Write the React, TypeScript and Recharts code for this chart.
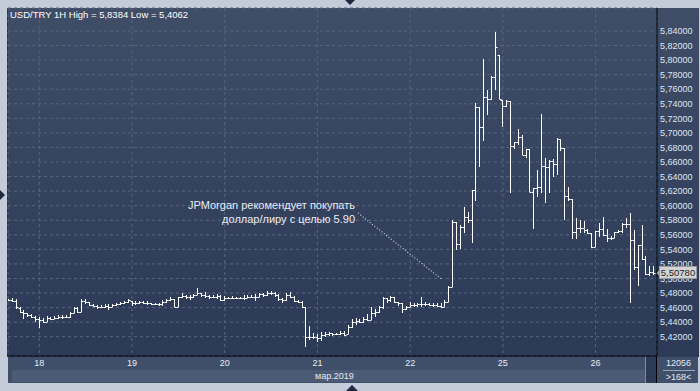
import React from 'react';
import { Bar, CartesianGrid, ComposedChart, ReferenceLine, XAxis, YAxis } from 'recharts';

// hourly bars, USD/TRY, 17.03 16:00 .. 26.03 15:00
const opens = [
  5.4705, 5.4705, 5.4696, 5.459, 5.4545, 5.4522, 5.4499, 5.4476, 5.444, 5.443,
  5.4407, 5.4453, 5.4444, 5.4453, 5.4467, 5.4467, 5.4467, 5.4522, 5.459, 5.4536,
  5.4687, 5.4682, 5.4636, 5.4623, 5.4604, 5.4613, 5.4623, 5.4613, 5.4636, 5.4646,
  5.4659, 5.4682, 5.4696, 5.4659, 5.4668, 5.4673, 5.4668, 5.4659, 5.465, 5.4646,
  5.465, 5.4682, 5.4705, 5.4714, 5.4613, 5.4742, 5.476, 5.4751, 5.4742, 5.4774,
  5.4797, 5.4774, 5.476, 5.4742, 5.4751, 5.476, 5.471, 5.4728, 5.4737, 5.4737,
  5.4733, 5.4733, 5.4728, 5.4751, 5.4751, 5.4751, 5.4787, 5.4774, 5.4797, 5.4806,
  5.4774, 5.4714, 5.4705, 5.4774, 5.4751, 5.4691, 5.4682, 5.4604, 5.4201, 5.4201,
  5.4201, 5.4178, 5.4224, 5.4238, 5.4247, 5.4238, 5.4238, 5.4256, 5.4238, 5.4339,
  5.4407, 5.4421, 5.4407, 5.444, 5.443, 5.4522, 5.4545, 5.4604, 5.4728, 5.4705,
  5.4742, 5.4682, 5.4668, 5.4577, 5.4604, 5.4636, 5.4636, 5.465, 5.465, 5.465,
  5.4636, 5.4636, 5.4623, 5.4613, 5.4682, 5.4888, 5.578, 5.547, 5.5712, 5.585,
  5.5804, 5.6216, 5.7351, 5.7077, 5.7498, 5.7461, 5.7763, 5.807, 5.7452, 5.7374,
  5.7443, 5.6825, 5.688, 5.6939, 5.6697, 5.6775, 5.6193, 5.6239, 5.6252, 5.655,
  5.6536, 5.6619, 5.6568, 5.6912, 5.6788, 5.6133, 5.6088, 5.5639, 5.5689, 5.5689,
  5.5666, 5.5621, 5.5437, 5.5657, 5.5676, 5.5598, 5.5552, 5.5552, 5.5639, 5.5648,
  5.5749, 5.5749, 5.5529, 5.5154, 5.5456, 5.5263, 5.5062, 5.5094,
];

const highs = [
  5.4714, 5.4728, 5.4714, 5.4604, 5.4568, 5.4522, 5.4508, 5.4485, 5.4467, 5.4462,
  5.4485, 5.4476, 5.4485, 5.4494, 5.4499, 5.4499, 5.4545, 5.4604, 5.4613, 5.4714,
  5.4714, 5.4682, 5.465, 5.4636, 5.4636, 5.465, 5.465, 5.465, 5.4659, 5.4682,
  5.4696, 5.4714, 5.4696, 5.4687, 5.4691, 5.4696, 5.4687, 5.4668, 5.4668, 5.4659,
  5.4705, 5.4723, 5.4742, 5.4714, 5.4751, 5.4806, 5.4778, 5.4778, 5.4787, 5.4865,
  5.4806, 5.4815, 5.4774, 5.4774, 5.4787, 5.4774, 5.476, 5.4751, 5.476, 5.4751,
  5.4751, 5.4774, 5.4774, 5.4774, 5.4787, 5.4806, 5.4797, 5.4829, 5.4829, 5.482,
  5.4783, 5.4728, 5.4797, 5.482, 5.476, 5.4705, 5.4696, 5.4613, 5.4348, 5.4256,
  5.4238, 5.427, 5.427, 5.427, 5.4256, 5.4256, 5.4279, 5.4284, 5.4362, 5.444,
  5.4453, 5.444, 5.4467, 5.4513, 5.4613, 5.4577, 5.4623, 5.4751, 5.4728, 5.476,
  5.4751, 5.4682, 5.4668, 5.4623, 5.4682, 5.4668, 5.4668, 5.4742, 5.4682, 5.4659,
  5.4659, 5.4668, 5.4668, 5.4705, 5.4897, 5.5804, 5.5781, 5.5735, 5.5987, 5.5918,
  5.6216, 5.7406, 5.7351, 5.801, 5.759, 5.778, 5.8384, 5.807, 5.7452, 5.7452,
  5.7443, 5.688, 5.7049, 5.6971, 5.6775, 5.6775, 5.6239, 5.649, 5.7255, 5.6651,
  5.6628, 5.6637, 5.6925, 5.6918, 5.6788, 5.6262, 5.6088, 5.583, 5.5804, 5.579,
  5.5676, 5.563, 5.5657, 5.5758, 5.584, 5.5676, 5.5584, 5.5639, 5.5666, 5.5758,
  5.583, 5.5904, 5.5666, 5.546, 5.5735, 5.5309, 5.5172, 5.5172,
];

const lows = [
  5.4696, 5.4682, 5.4577, 5.4531, 5.444, 5.4476, 5.4462, 5.4407, 5.4316, 5.4385,
  5.4407, 5.443, 5.444, 5.4449, 5.4444, 5.4453, 5.4453, 5.4522, 5.4522, 5.4536,
  5.465, 5.4623, 5.4604, 5.4577, 5.459, 5.459, 5.4568, 5.4613, 5.4623, 5.4636,
  5.465, 5.4659, 5.4623, 5.4641, 5.465, 5.4646, 5.4641, 5.4632, 5.4632, 5.4623,
  5.4623, 5.4668, 5.4696, 5.4604, 5.4613, 5.4728, 5.4714, 5.4705, 5.4728, 5.4774,
  5.4751, 5.4728, 5.4714, 5.4728, 5.4723, 5.4696, 5.4696, 5.4714, 5.4714, 5.4723,
  5.4719, 5.4705, 5.4728, 5.4728, 5.4696, 5.4751, 5.4751, 5.476, 5.4774, 5.4751,
  5.4696, 5.4668, 5.4696, 5.4728, 5.4682, 5.4659, 5.46, 5.4062, 5.4156, 5.4165,
  5.4133, 5.4147, 5.42, 5.4211, 5.4211, 5.422, 5.422, 5.4211, 5.4238, 5.4316,
  5.4362, 5.4385, 5.4394, 5.4421, 5.443, 5.4467, 5.4522, 5.4577, 5.4668, 5.4682,
  5.4659, 5.4623, 5.4531, 5.4568, 5.4604, 5.4604, 5.4613, 5.4604, 5.4623, 5.4623,
  5.4613, 5.4604, 5.459, 5.4613, 5.4682, 5.4888, 5.539, 5.541, 5.5621, 5.5758,
  5.549, 5.606, 5.6536, 5.6893, 5.7246, 5.7452, 5.759, 5.7466, 5.7086, 5.7351,
  5.6179, 5.6775, 5.6834, 5.6697, 5.6651, 5.6193, 5.5676, 5.6115, 5.617, 5.6042,
  5.617, 5.6399, 5.6422, 5.675, 5.5804, 5.606, 5.5538, 5.5538, 5.5621, 5.5621,
  5.5612, 5.5424, 5.5437, 5.5575, 5.5584, 5.5506, 5.5529, 5.5552, 5.5621, 5.563,
  5.5689, 5.4668, 5.5117, 5.4897, 5.5254, 5.5048, 5.5035, 5.5048,
];

const closes = [
  5.4705, 5.4696, 5.4604, 5.4545, 5.4522, 5.4499, 5.4476, 5.444, 5.443, 5.4407,
  5.4453, 5.4444, 5.4453, 5.4467, 5.4467, 5.4467, 5.4522, 5.459, 5.4536, 5.4687,
  5.4682, 5.4636, 5.4623, 5.4604, 5.4613, 5.4623, 5.4613, 5.4636, 5.4646, 5.4659,
  5.4682, 5.4705, 5.4659, 5.4668, 5.4673, 5.4668, 5.4659, 5.465, 5.4646, 5.465,
  5.4682, 5.4705, 5.4714, 5.4613, 5.4742, 5.476, 5.4751, 5.4742, 5.4774, 5.4797,
  5.4774, 5.476, 5.4742, 5.4751, 5.476, 5.471, 5.4728, 5.4737, 5.4737, 5.4733,
  5.4733, 5.4728, 5.4751, 5.4751, 5.4751, 5.4787, 5.4774, 5.4797, 5.4806, 5.4774,
  5.4714, 5.4705, 5.4774, 5.4751, 5.4691, 5.4682, 5.4604, 5.4201, 5.4201, 5.4201,
  5.4178, 5.4224, 5.4238, 5.4247, 5.4238, 5.4238, 5.4256, 5.4224, 5.4339, 5.4407,
  5.4421, 5.4407, 5.444, 5.443, 5.4522, 5.4545, 5.4604, 5.4728, 5.4705, 5.4742,
  5.4682, 5.4668, 5.4577, 5.4604, 5.4636, 5.4636, 5.465, 5.465, 5.465, 5.4636,
  5.4636, 5.4623, 5.4613, 5.4682, 5.4888, 5.578, 5.547, 5.5712, 5.585, 5.5804,
  5.6216, 5.7351, 5.7077, 5.7498, 5.7461, 5.7763, 5.8176, 5.7466, 5.7374, 5.7443,
  5.6825, 5.688, 5.6939, 5.6697, 5.6775, 5.6193, 5.6239, 5.6252, 5.655, 5.6536,
  5.6619, 5.6568, 5.6912, 5.6788, 5.6133, 5.6088, 5.5639, 5.5689, 5.5689, 5.5666,
  5.5621, 5.5437, 5.5657, 5.5676, 5.5598, 5.5552, 5.5552, 5.5639, 5.5648, 5.5749,
  5.5749, 5.5529, 5.5154, 5.5456, 5.5263, 5.5062, 5.5094, 5.5078,
];

const dayTicks = [8, 32, 56, 80, 104, 128, 152];
const dayLabels = ['18', '19', '20', '21', '22', '25', '26'];

const priceTicks = [
  5.42, 5.44, 5.46, 5.48, 5.5, 5.52, 5.54, 5.56, 5.58, 5.6, 5.62,
  5.64, 5.66, 5.68, 5.7, 5.72, 5.74, 5.76, 5.78, 5.8, 5.82, 5.84,
];

const lastPrice = 5.5078;
const noteLines = ['JPMorgan рекомендует покупать', 'доллар/лиру с целью 5.90'];
// dotted pointer: from below the note down to the breakout
const noteFrom = { x: 90.5, y: 5.59 };
const noteTo = { x: 112.2, y: 5.4989 };

const data = closes.map((c, i) => ({
  i,
  range: [lows[i], highs[i]],
  open: opens[i],
  high: highs[i],
  low: lows[i],
  close: c,
}));

const FONT = '"Liberation Sans", Arial, sans-serif';

function OhlcBar(props: any) {
  const { x, y, width, height, payload } = props;
  if (x == null || y == null) return null;
  const top = Math.min(y, y + height);
  const h = Math.abs(height);
  const cx = Math.round(x + width / 2) + 0.5;
  const span = payload.high - payload.low;
  const k = span > 0 ? h / span : 0;
  const yo = Math.round(top + (payload.high - payload.open) * k) + 0.5;
  const yc = Math.round(top + (payload.high - payload.close) * k) + 0.5;
  return (
    <g stroke="#ffffff" strokeWidth={1}>
      <line x1={cx} x2={cx} y1={Math.round(top)} y2={Math.round(top + Math.max(h, 1))} />
      <line x1={cx - 2} x2={cx} y1={yo} y2={yo} />
      <line x1={cx} x2={cx + 2} y1={yc} y2={yc} />
    </g>
  );
}

export default function App() {
  const fmtPrice = (v: number) => v.toFixed(5).replace('.', ',');

  return (
    <div style={{ position: 'absolute', left: 0, top: 0, width: 700, height: 391, background: '#c3ccd8', fontFamily: FONT, overflow: 'hidden' }}>
      {/* panels */}
      <div style={{ position: 'absolute', left: 7, top: 8, width: 691, height: 349, background: 'linear-gradient(#3f4d67, #2c3957)', borderLeft: '1px solid #27324a' }} />
      <div style={{ position: 'absolute', left: 8, top: 357, width: 690, height: 26, background: '#3f4e69' }} />
      <div style={{ position: 'absolute', left: 12, top: 370, width: 633, height: 12, background: '#4b5b76' }} />
      <div style={{ position: 'absolute', left: 645, top: 357, width: 12, height: 26, background: '#2d3a55', borderLeft: '1px solid #7d8ca4', boxSizing: 'border-box' }} />
      <div style={{ position: 'absolute', left: 656, top: 356, width: 1, height: 27, background: '#000' }} />

      <div style={{ position: 'absolute', left: 0, top: 0 }}>
        <ComposedChart width={700} height={391} data={data} margin={{ top: 8, right: 2, bottom: 21, left: 8 }} style={{ fontFamily: FONT }}>
          <CartesianGrid stroke="#56657f" strokeDasharray="3 3" />
          <XAxis
            dataKey="i"
            type="number"
            domain={[-0.1, 167.9]}
            allowDataOverflow
            ticks={dayTicks}
            interval={0}
            tickFormatter={(v: number) => dayLabels[dayTicks.indexOf(v)]}
            height={14}
            tickLine={false}
            tickSize={0}
            tickMargin={4}
            axisLine={{ stroke: '#000000', strokeWidth: 1 }}
            tick={{ fill: '#e6edf7', fontSize: 9 }}
          />
          <YAxis
            orientation="right"
            domain={[5.3935, 5.8716]}
            allowDataOverflow
            ticks={priceTicks}
            interval={0}
            tickFormatter={fmtPrice}
            width={41}
            tickLine={false}
            tickSize={0}
            tickMargin={3}
            axisLine={{ stroke: '#000000', strokeWidth: 1 }}
            tick={{ fill: '#dde7f5', fontSize: 9, textAnchor: 'start' }}
          />
          <ReferenceLine
            segment={[noteFrom, noteTo]}
            stroke="#c9d1dd"
            strokeDasharray="1 2"
            strokeWidth={1.2}
          />
          <Bar dataKey="range" barSize={3} shape={<OhlcBar />} isAnimationActive={false} />
        </ComposedChart>
      </div>

      {/* title */}
      <div style={{ position: 'absolute', left: 10, top: 9, fontSize: 9.5, lineHeight: '12px', color: '#ffffff', whiteSpace: 'nowrap' }}>
        USD/TRY 1H High = 5,8384 Low = 5,4062
      </div>

      {/* note */}
      <div style={{ position: 'absolute', left: 120, top: 198, width: 235, textAlign: 'right', fontSize: 11, lineHeight: '14px', color: '#e8edf5', whiteSpace: 'nowrap' }}>
        {noteLines.map((l) => (
          <div key={l}>{l}</div>
        ))}
      </div>

      {/* last price tag */}
      <svg style={{ position: 'absolute', left: 656, top: 266 }} width={42} height={14}>
        <polygon points="1,7 4,3 4,11" fill="#b8b8b8" />
        <rect x={3.5} y={0.5} width={37} height={12} fill="#d3d3d3" stroke="#9a9a9a" />
        <text x={22} y={10} textAnchor="middle" fontSize={9.5} fill="#1e1e1e" fontFamily={FONT}>
          {fmtPrice(lastPrice)}
        </text>
      </svg>

      {/* month label */}
      <div style={{ position: 'absolute', left: 315, top: 370, fontSize: 9, lineHeight: '12px', color: '#e3eaf4' }}>мар.2019</div>

      {/* bars counter */}
      <div style={{ position: 'absolute', left: 657, top: 357, width: 43, textAlign: 'center', fontSize: 9, lineHeight: '12px', color: '#e3eaf4' }}>12056</div>
      <div style={{ position: 'absolute', left: 663, top: 370, width: 32, height: 1, background: '#9aa8bc' }} />
      <div style={{ position: 'absolute', left: 657, top: 371, width: 43, textAlign: 'center', fontSize: 9, lineHeight: '12px', color: '#e3eaf4' }}>&gt;168&lt;</div>

      {/* frame markers */}
      <svg style={{ position: 'absolute', left: 0, top: 0 }} width={700} height={391}>
        <polygon points="345,0 355,0 350,5" fill="#1c2940" />
        <polygon points="0,190 5,195 0,200" fill="#1c2940" />
        <polygon points="346,391 358,391 352,385" fill="#1c2940" />
      </svg>
    </div>
  );
}
